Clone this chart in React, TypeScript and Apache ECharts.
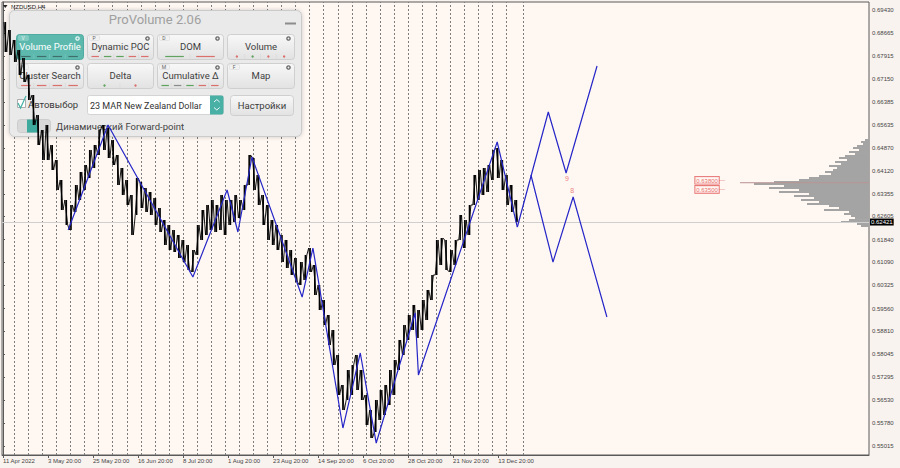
import React, { useEffect, useRef } from "react";
import * as echarts from "echarts";

// ---------- data ----------
const xTickBars = [0, 96, 192, 288, 384, 480, 576, 672, 768, 864, 960, 1056];
const xTickLabels = [
  "11 Apr 2022", "3 May 20:00", "25 May 20:00", "16 Jun 20:00", "8 Jul 20:00", "1 Aug 20:00",
  "23 Aug 20:00", "14 Sep 20:00", "6 Oct 20:00", "28 Oct 20:00", "21 Nov 20:00", "13 Dec 20:00",
];
const yTickLabels = [
  0.6943, 0.68665, 0.67915, 0.6715, 0.66385, 0.65635, 0.6487, 0.6412, 0.63355, 0.62605,
  0.6184, 0.6109, 0.60325, 0.5956, 0.5881, 0.58045, 0.57295, 0.5653, 0.5578, 0.55015,
];
const weekSeparators = [
  24, 54, 84, 114, 144, 174, 204, 234, 264, 294, 324, 354, 384, 414, 444, 474, 504, 534, 564,
  594, 624, 654, 684, 714, 744, 774, 804, 834, 864, 894, 924, 954, 984, 1014, 1044, 1074, 1110,
];

// H4 price, grouped in blocks of 10 bars: block high / block low
const BLOCK = 10;
const blockHighs = [
  0.69034, 0.68769, 0.68439, 0.68108, 0.67844, 0.67282, 0.6662, 0.65959, 0.65463, 0.65629,
  0.64967, 0.64471, 0.6381, 0.63149, 0.62984, 0.63645, 0.64075, 0.64306, 0.64802, 0.64967,
  0.65463, 0.65629, 0.65529, 0.65133, 0.64637, 0.64207, 0.6381, 0.63314, 0.63876, 0.63744,
  0.63545, 0.63413, 0.63215, 0.62884, 0.62488, 0.62323, 0.62157, 0.61992, 0.61827, 0.61661,
  0.61496, 0.62323, 0.62818, 0.62984, 0.63149, 0.62984, 0.63314, 0.63149, 0.63149, 0.63314,
  0.63149, 0.63645, 0.64637, 0.64537, 0.63976, 0.63314, 0.62984, 0.62488, 0.62323, 0.61992,
  0.61827, 0.61496, 0.61232, 0.61099, 0.61331, 0.61562, 0.61, 0.60339, 0.59843, 0.59347,
  0.58851, 0.58025, 0.57033, 0.57529, 0.57694, 0.58025, 0.57529, 0.56702, 0.56206, 0.56537,
  0.56868, 0.57033, 0.57529, 0.57859, 0.58521, 0.59016, 0.59347, 0.59678, 0.59512, 0.59843,
  0.60174, 0.6067, 0.61827, 0.61893, 0.61827, 0.61496, 0.61827, 0.62653, 0.62488, 0.62984,
  0.63976, 0.64141, 0.64207, 0.64306, 0.64802, 0.64868, 0.64471, 0.63976, 0.63645, 0.63149,
];
const blockLows = [
  0.68042, 0.67943, 0.67711, 0.67282, 0.6705, 0.66455, 0.65629, 0.64967, 0.64471, 0.64471,
  0.64141, 0.63479, 0.62818, 0.62323, 0.62157, 0.62752, 0.63149, 0.63479, 0.63876, 0.64207,
  0.64637, 0.64802, 0.64537, 0.64306, 0.63645, 0.63314, 0.62984, 0.61992, 0.62653, 0.62884,
  0.62752, 0.62653, 0.62323, 0.62091, 0.61661, 0.61496, 0.6143, 0.61232, 0.61099, 0.60835,
  0.60769, 0.61331, 0.61827, 0.61992, 0.62157, 0.62091, 0.62157, 0.61992, 0.62323, 0.62422,
  0.62554, 0.62818, 0.63645, 0.63479, 0.62984, 0.62323, 0.61827, 0.61661, 0.61496, 0.61099,
  0.60901, 0.6067, 0.60438, 0.60339, 0.60504, 0.60769, 0.60008, 0.59512, 0.59016, 0.58355,
  0.57694, 0.56702, 0.56206, 0.56537, 0.56702, 0.56868, 0.56537, 0.55711, 0.55281, 0.55479,
  0.55876, 0.56041, 0.56372, 0.56702, 0.57529, 0.58025, 0.58521, 0.58851, 0.58587, 0.58851,
  0.59182, 0.59843, 0.6067, 0.61, 0.60835, 0.60769, 0.61, 0.61827, 0.61562, 0.61992,
  0.62984, 0.63149, 0.63314, 0.63413, 0.6381, 0.63876, 0.63479, 0.62984, 0.62752, 0.62422,
];

// zigzag indicator (bar index, price)
const zigzagBars = [139, 224, 405, 478, 501, 531, 638, 661, 725, 762, 796, 879, 886, 1054, 1097];
const zigzagPrices = [
  0.62157, 0.65629, 0.60603, 0.63479, 0.62091, 0.64571, 0.59942, 0.61562, 0.55611, 0.58091,
  0.55115, 0.59413, 0.57364, 0.65067, 0.62256,
];
const forecastUpBars = [1097, 1163, 1201, 1267];
const forecastUpPrices = [0.62256, 0.66058, 0.64042, 0.67579];
const forecastDownBars = [1126, 1173, 1216, 1288];
const forecastDownPrices = [0.63976, 0.61099, 0.63248, 0.59281];
const waveMarkBars = [1203, 1214];
const waveMarkPrices = [0.63844, 0.63447];
const waveMarkTexts = ["9", "8"];

// volume profile (price level, volume)
const profilePrices = [
  0.65132, 0.65066, 0.65, 0.64934, 0.64868, 0.64802, 0.64736, 0.64669, 0.64603, 0.64537,
  0.64471, 0.64405, 0.64339, 0.64273, 0.64207, 0.6414, 0.64074, 0.64008, 0.63942, 0.63876,
  0.6381, 0.63744, 0.63678, 0.63611, 0.63545, 0.63479, 0.63413, 0.63347, 0.63281, 0.63215,
  0.63149, 0.63083, 0.63016, 0.6295, 0.62884, 0.62818, 0.62752, 0.62686, 0.6262, 0.62554,
  0.62487, 0.62421, 0.62355, 0.62289,
];
const profileVolumes = [
  4, 8, 6, 12, 16, 10, 20, 14, 24, 30, 22, 34, 28, 40, 32, 36, 44, 38, 50, 60, 70, 95, 115, 85,
  100, 70, 90, 60, 75, 55, 68, 50, 62, 40, 30, 45, 20, 25, 18, 14, 20, 28, 12, 8,
];
const pocPrice = 0.6372;
const pocStartBar = 1572;
const levelBar = 1508;
const levelPrices = [0.638, 0.635];
const lastPrice = 0.62421;

// ---------- panel (overlay UI) ----------
const Z = 3;
const btnLabels = [
  ["Volume Profile", "Dynamic POC", "DOM", "Volume"],
  ["Cluster Search", "Delta", "Cumulative Δ", "Map"],
];
const btnLetters = [
  ["V", "P", "D", ""],
  ["N", "", "M", "F"],
];
const R = "#d9706c", G = "#5fa35f", K = "#8a8a8a", DT = "#3f6f6a";
const btnMarks: { kind: "dash" | "dot"; colors: string[] }[][] = [
  [
    { kind: "dash", colors: [DT, DT, DT, DT] },
    { kind: "dash", colors: [R, G, G, R, R] },
    { kind: "dash", colors: [G, R] },
    { kind: "dot", colors: [R, G, R, R] },
  ],
  [
    { kind: "dash", colors: [R, R, R, R] },
    { kind: "dot", colors: [G, R] },
    { kind: "dash", colors: [G, K, G, R, R] },
    { kind: "dash", colors: [] },
  ],
];

function panelGraphics() {
  const els: any[] = [];
  const font = "Roboto, 'Noto Sans', sans-serif";
  els.push({
    type: "rect", z: Z,
    shape: { x: 9.5, y: 10.5, width: 292, height: 126, r: 5 },
    style: { fill: "#EAEAEA", stroke: "#CBCBCB", lineWidth: 1, shadowBlur: 4, shadowColor: "rgba(0,0,0,0.18)" },
  });
  els.push({
    type: "text", z: Z, x: 155, y: 19,
    style: { text: "ProVolume 2.06", align: "center", verticalAlign: "middle", fontSize: 13, fontFamily: font, fill: "#A0A0A0" },
  });
  els.push({ type: "line", z: Z, shape: { x1: 285, y1: 23.5, x2: 296, y2: 23.5 }, style: { stroke: "#8c8c8c", lineWidth: 2 } });

  const cols = [16, 87, 157, 227];
  const widths = [67, 66, 66, 67];
  const rows = [34, 63];
  const h = 25;
  rows.forEach((y, r) => {
    cols.forEach((x, c) => {
      const w = widths[c];
      const active = r === 0 && c === 0;
      els.push({
        type: "rect", z: Z,
        shape: { x: x + 0.5, y: y + 0.5, width: w, height: h, r: 3 },
        style: active
          ? { fill: "#5DB9AE", stroke: "#4FAA9F", lineWidth: 1 }
          : {
              fill: { type: "linear", x: 0, y: 0, x2: 0, y2: 1, colorStops: [{ offset: 0, color: "#F8F8F8" }, { offset: 1, color: "#E2E2E2" }] },
              stroke: "#CFCFCF", lineWidth: 1,
            },
      });
      const letter = btnLetters[r][c];
      if (letter) {
        els.push({
          type: "rect", z: Z, shape: { x: x + 2.5, y: y + 1.5, width: 10, height: 5, r: 1 },
          style: { fill: active ? "#7FCAC1" : "#F2F2F2", stroke: active ? "#8fd0c8" : "#d6d6d6", lineWidth: 0.5 },
        });
        els.push({
          type: "text", z: Z, x: x + 7, y: y + 4.2,
          style: { text: letter, align: "center", verticalAlign: "middle", fontSize: 5, fontFamily: font, fill: active ? "#e8f6f4" : "#666" },
        });
      }
      if (!(r === 1 && c === 1)) {
        els.push({ type: "circle", z: Z, shape: { cx: x + w - 5.5, cy: y + 4.5, r: 2.3 }, style: { fill: active ? "#e4f4f2" : "#6d6d6d" } });
        els.push({ type: "circle", z: Z, shape: { cx: x + w - 5.5, cy: y + 4.5, r: 0.9 }, style: { fill: active ? "#5DB9AE" : "#eeeeee" } });
      }
      els.push({
        type: "text", z: Z, x: x + w / 2 + 0.5, y: y + 12.5,
        style: { text: btnLabels[r][c], align: "center", verticalAlign: "middle", fontSize: 9.5, fontFamily: font, fill: active ? "#FFFFFF" : "#3E3E3E" },
      });
      const marks = btnMarks[r][c];
      const n = marks.colors.length;
      if (n > 0) {
        const seg = (w - 4) / n;
        marks.colors.forEach((col, k) => {
          const sx = x + 2 + seg * k;
          if (marks.kind === "dash") {
            els.push({ type: "line", z: Z, shape: { x1: sx + seg * 0.2, y1: y + h - 2.5, x2: sx + seg * 0.8, y2: y + h - 2.5 }, style: { stroke: col, lineWidth: 1.2 } });
          } else {
            els.push({ type: "circle", z: Z, shape: { cx: sx + seg / 2, cy: y + h - 2.5, r: 1.2 }, style: { fill: col } });
          }
          if (k > 0) {
            els.push({ type: "line", z: Z, shape: { x1: sx, y1: y + h - 5, x2: sx, y2: y + h }, style: { stroke: active ? "#7cc8be" : "#d8d8d8", lineWidth: 0.6 } });
          }
        });
      }
    });
  });

  // row 3
  els.push({ type: "rect", z: Z, shape: { x: 17.5, y: 99.5, width: 8, height: 8 }, style: { fill: "#FFFFFF", stroke: "#9a9a9a", lineWidth: 0.8 } });
  els.push({ type: "polyline", z: Z, shape: { points: [[18, 103], [20.5, 108], [26, 96]] }, style: { stroke: "#45B2A6", lineWidth: 1.2, fill: null } });
  els.push({ type: "text", z: Z, x: 28, y: 104, style: { text: "Автовыбор", align: "left", verticalAlign: "middle", fontSize: 9.5, fontFamily: font, fill: "#3a3a3a" } });
  els.push({ type: "rect", z: Z, shape: { x: 87.5, y: 95.5, width: 136, height: 19, r: 2 }, style: { fill: "#FFFFFF", stroke: "#D4D4D4", lineWidth: 1 } });
  els.push({ type: "text", z: Z, x: 90, y: 105.5, style: { text: "23 MAR New Zealand Dollar", align: "left", verticalAlign: "middle", fontSize: 9, fontFamily: font, fill: "#333" } });
  els.push({ type: "rect", z: Z, shape: { x: 210, y: 95.5, width: 13.5, height: 19, r: [0, 2, 2, 0] }, style: { fill: "#48B0A5" } });
  els.push({ type: "polyline", z: Z, shape: { points: [[214, 102], [216.8, 99.5], [219.6, 102]] }, style: { stroke: "#FFFFFF", lineWidth: 0.9, fill: null } });
  els.push({ type: "polyline", z: Z, shape: { points: [[214, 107.5], [216.8, 110], [219.6, 107.5]] }, style: { stroke: "#FFFFFF", lineWidth: 0.9, fill: null } });
  els.push({
    type: "rect", z: Z, shape: { x: 230.5, y: 95.5, width: 63, height: 20, r: 3 },
    style: { fill: { type: "linear", x: 0, y: 0, x2: 0, y2: 1, colorStops: [{ offset: 0, color: "#F8F8F8" }, { offset: 1, color: "#E2E2E2" }] }, stroke: "#CFCFCF", lineWidth: 1 },
  });
  els.push({ type: "text", z: Z, x: 262, y: 105.5, style: { text: "Настройки", align: "center", verticalAlign: "middle", fontSize: 9.5, fontFamily: font, fill: "#3a3a3a" } });

  // row 4
  els.push({ type: "rect", z: Z, shape: { x: 17.5, y: 119.5, width: 33, height: 13, r: 3 }, style: { fill: "#D9D9D9", stroke: "#C8C8C8", lineWidth: 0.8 } });
  els.push({ type: "rect", z: Z, shape: { x: 27, y: 119.5, width: 11, height: 13 }, style: { fill: "#3DAA9D" } });
  els.push({ type: "text", z: Z, x: 56, y: 126, style: { text: "Динамический Forward-point", align: "left", verticalAlign: "middle", fontSize: 9.5, fontFamily: font, fill: "#444" } });

  // symbol caption
  els.push({ type: "polygon", z: 20, shape: { points: [[3, 5], [7.5, 5], [5.25, 8]] }, style: { fill: "#222" } });
  els.push({ type: "text", z: 20, x: 11, y: 6.5, style: { text: "NZDUSD,H4", align: "left", verticalAlign: "middle", fontSize: 6, fontFamily: "'Liberation Sans', sans-serif", fill: "#222" } });
  return els;
}

export default function App() {
  const ref = useRef<HTMLDivElement>(null);
  useEffect(() => {
    if (!ref.current) return;
    const chart = echarts.init(ref.current, null, { renderer: "svg" });

    // price path: alternating high/low inside each block
    const mid = (i: number) => (blockHighs[i] + blockLows[i]) / 2;
    const pricePath: number[][] = [];
    blockHighs.forEach((hi, i) => {
      const lo = blockLows[i];
      const prev = i > 0 ? mid(i - 1) : mid(i);
      const next = i < blockHighs.length - 1 ? mid(i + 1) : mid(i);
      const x0 = i * BLOCK;
      if (next - prev < 0) {
        pricePath.push([x0 + 2, hi], [x0 + 8, lo]);
      } else {
        pricePath.push([x0 + 2, lo], [x0 + 8, hi]);
      }
    });
    const blockData = blockHighs.map((hi, i) => [i * BLOCK + BLOCK / 2, blockLows[i], hi]);

    const axisFont = "'Liberation Sans', Arial, sans-serif";
    const option: any = {
      animation: false,
      backgroundColor: "#F9F3EF",
      grid: { left: 2, right: 31, top: 2, bottom: 13, show: true, backgroundColor: "#FEF7F2", borderColor: "#5a5a5a", borderWidth: 1 },
      xAxis: [
        {
          type: "value", min: -2, max: 1847,
          axisLine: { show: true, lineStyle: { color: "#5a5a5a" } },
          axisTick: { show: true, customValues: xTickBars, length: 3, lineStyle: { color: "#5a5a5a" } },
          axisLabel: {
            customValues: xTickBars, align: "left", margin: 3, fontSize: 6, color: "#444", fontFamily: axisFont,
            formatter: (v: number) => xTickLabels[xTickBars.indexOf(Math.round(v))] ?? "",
          },
          splitLine: { show: false },
        },
        { type: "value", inverse: true, min: 0, max: 867, show: false, splitLine: { show: false } },
      ],
      yAxis: {
        type: "value", position: "right", min: 0.54719, max: 0.69695, scale: true,
        axisLine: { show: true, lineStyle: { color: "#5a5a5a" } },
        axisTick: { show: true, customValues: yTickLabels, length: 2, lineStyle: { color: "#5a5a5a" } },
        axisLabel: { customValues: yTickLabels, margin: 3, fontSize: 6, color: "#444", fontFamily: axisFont, formatter: (v: number) => v.toFixed(5) },
        splitLine: { show: false },
      },
      graphic: { elements: panelGraphics() },
      series: [
        {
          type: "custom", name: "profile", xAxisIndex: 1, yAxisIndex: 0, z: 2, silent: true,
          data: profilePrices.map((p, i) => [profileVolumes[i], p]),
          encode: { x: 0, y: 1 },
          renderItem: (_p: any, api: any) => {
            const l = api.coord([api.value(0), api.value(1)]);
            const r = api.coord([0, api.value(1)]);
            const hh = api.size([0, 0.00066])[1];
            return { type: "rect", shape: { x: l[0], y: l[1] - hh / 2, width: r[0] - l[0], height: hh }, style: { fill: "#A4A4A4" } };
          },
        },
        {
          type: "line", name: "poc", z: 2, silent: true, showSymbol: false,
          data: [[pocStartBar, pocPrice], [1847, pocPrice]],
          lineStyle: { color: "#B99494", width: 1 },
        },
        {
          type: "scatter", name: "levels", z: 6, silent: true, symbolSize: 0,
          data: levelPrices.map((p) => [levelBar, p]),
          label: {
            show: true, position: "inside",
            formatter: (p: any) => `{b|${p.value[1].toFixed(5)}}{d|—}`,
            rich: {
              b: { fontSize: 6, color: "#E04A4A", borderColor: "#E04A4A", borderWidth: 0.8, padding: [1, 1, 0, 1], backgroundColor: "#FFF4F0", fontFamily: axisFont },
              d: { fontSize: 6, color: "#E04A4A", fontFamily: axisFont },
            },
          },
          markLine: {
            silent: true, symbol: ["none", "none"], z: 1, animation: false, precision: 5,
            label: { show: false },
            lineStyle: { color: "#7d7d7d", width: 1, type: [2, 2] },
            emphasis: { disabled: true },
            data: weekSeparators.map((b) => ({ xAxis: b })),
          },
        },
        {
          type: "scatter", name: "waveMarks", z: 6, silent: true, symbolSize: 0,
          data: waveMarkBars.map((b, i) => [b, waveMarkPrices[i]]),
          label: { show: true, position: "inside", formatter: (p: any) => waveMarkTexts[p.dataIndex], fontSize: 7, color: "#E86060", fontFamily: axisFont },
        },
        {
          type: "custom", name: "priceBars", z: 10, silent: true,
          data: blockData, encode: { x: 0, y: [1, 2] },
          renderItem: (_p: any, api: any) => {
            const a = api.coord([api.value(0), api.value(1)]);
            const b = api.coord([api.value(0), api.value(2)]);
            return { type: "line", shape: { x1: a[0], y1: a[1], x2: b[0], y2: b[1] }, style: { stroke: "#000", lineWidth: 1.6 } };
          },
        },
        {
          type: "line", name: "price", z: 10, silent: true, showSymbol: false,
          data: pricePath, lineStyle: { color: "#000", width: 0.9 },
          markLine: {
            silent: true, symbol: ["none", "none"], animation: false, precision: 5,
            lineStyle: { color: "#CFCFCF", width: 1, type: "solid" },
            label: { show: true, position: "end", distance: 1, formatter: lastPrice.toFixed(5), backgroundColor: "#000", color: "#fff", fontSize: 6, padding: [1, 1, 0, 1], fontFamily: axisFont },
            emphasis: { disabled: true },
            data: [{ yAxis: lastPrice }],
          },
        },
        {
          type: "line", name: "zigzag", z: 11, silent: true, showSymbol: false,
          data: zigzagBars.map((b, i) => [b, zigzagPrices[i]]),
          lineStyle: { color: "#2626C8", width: 1.2 },
        },
        {
          type: "line", name: "forecastUp", z: 11, silent: true, showSymbol: false,
          data: forecastUpBars.map((b, i) => [b, forecastUpPrices[i]]),
          lineStyle: { color: "#2626C8", width: 1.2 },
        },
        {
          type: "line", name: "forecastDown", z: 11, silent: true, showSymbol: false,
          data: forecastDownBars.map((b, i) => [b, forecastDownPrices[i]]),
          lineStyle: { color: "#2626C8", width: 1.2 },
        },
      ],
    };
    chart.setOption(option);
    return () => chart.dispose();
  }, []);
  return <div ref={ref} style={{ position: "absolute", left: 0, top: 0, width: 900, height: 468 }} />;
}
